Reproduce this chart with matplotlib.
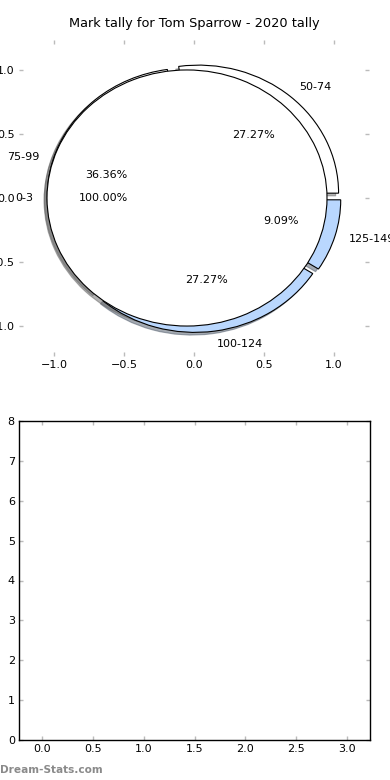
import matplotlib
matplotlib.use('Agg')
import matplotlib.pyplot as plt

title = "Mark tally for Tom Sparrow - 2020 tally"
outer_labels = ['50-74', '75-99', '100-124', '125-149']
outer_counts = [3, 4, 3, 1]
outer_colors = ['white', 'white', '#b9d7fe', '#b9d7fe']
inner_labels = ['0-3']
inner_counts = [1]
inner_colors = ['white']
pie_ticks = [-1.0, -0.5, 0.0, 0.5, 1.0]
bottom_xticks = [0.0, 0.5, 1.0, 1.5, 2.0, 2.5, 3.0]
bottom_yticks = [0, 1, 2, 3, 4, 5, 6, 7, 8]

plt.rcParams['font.family'] = ['DejaVu Sans']
fig = plt.figure(figsize=(3.9, 7.8), dpi=100)

ax1 = fig.add_axes([19/390, 1 - 356/780, 350/390, 316/780])
wp = dict(edgecolor='black', linewidth=0.8)
shadow = dict(ox=-0.015, oy=-0.015, shade=0.6)
ax1.pie(outer_counts, labels=outer_labels, colors=outer_colors,
        explode=[0.05] * len(outer_counts), autopct='%.2f%%', shadow=shadow,
        wedgeprops=wp, textprops=dict(fontsize=8))
ax1.pie(inner_counts, labels=inner_labels, colors=inner_colors,
        explode=[0.05] * len(inner_counts), autopct='%.2f%%', shadow=shadow,
        wedgeprops=wp, textprops=dict(fontsize=8))
ax1.set_aspect('auto')
ax1.set_frame_on(True)
ax1.set_xlim(-1.25, 1.25)
ax1.set_ylim(-1.234, 1.234)
ax1.set_xticks(pie_ticks)
ax1.set_yticks(pie_ticks)
for s in ax1.spines.values():
    s.set_visible(False)
ax1.patch.set_visible(False)
ax1.tick_params(direction='in', length=3, width=1, color='#bbbbbb',
                top=True, right=True, labelsize=8, pad=3)
ax1.set_title(title, fontsize=9.3, pad=9)

ax2 = fig.add_axes([19/390, 1 - 740/780, 351/390, 319/780])
ax2.set_xlim(-0.225, 3.225)
ax2.set_ylim(0, 8)
ax2.set_xticks(bottom_xticks)
ax2.set_yticks(bottom_yticks)
ax2.tick_params(direction='in', length=3, width=1, color='#bbbbbb',
                top=True, right=True, labelsize=8, pad=3)
for s in ax2.spines.values():
    s.set_linewidth(1)
    s.set_color('black')

fig.text(0.0, 1 - 770/780, 'Dream-Stats.com', fontsize=7.6, color='#8a8a8a',
         fontweight='bold', ha='left', va='center')

fig.savefig('out.png', dpi=100)
